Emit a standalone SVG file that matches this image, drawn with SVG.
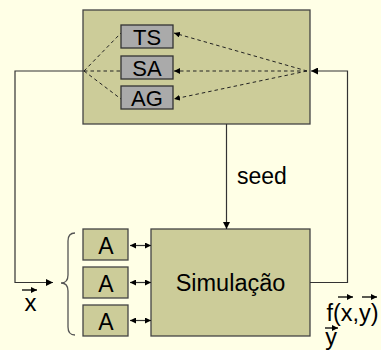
<svg xmlns="http://www.w3.org/2000/svg" width="381" height="350" viewBox="0 0 381 350">
<defs>
<style>
.big{fill:#CCCC99;stroke:#444;stroke-width:1.3}
.alg{fill:#AAAAAA;stroke:#333;stroke-width:1.3}
.t{font-family:"Liberation Sans",Arial,sans-serif;fill:#000;text-anchor:middle}
.s{font-family:"Liberation Sans",Arial,sans-serif;fill:#000;text-anchor:start}
.ln{fill:none;stroke:#333;stroke-width:1.2}
.dash{fill:none;stroke:#222;stroke-width:1;stroke-dasharray:3.5,3}
.vec{stroke:#000;stroke-width:1.3}
</style>
<marker id="ah" viewBox="0 0 10 10" refX="10" refY="5" markerWidth="7" markerHeight="7" markerUnits="userSpaceOnUse" orient="auto">
<path d="M0,0 L10,5 L0,10 z" fill="#000"/>
</marker>
<marker id="ahs" viewBox="0 0 10 10" refX="10" refY="5" markerWidth="6" markerHeight="6" markerUnits="userSpaceOnUse" orient="auto">
<path d="M0,0 L10,5 L0,10 z" fill="#000"/>
</marker>
<marker id="ahsr" viewBox="0 0 10 10" refX="0" refY="5" markerWidth="6" markerHeight="6" markerUnits="userSpaceOnUse" orient="auto">
<path d="M10,0 L0,5 L10,10 z" fill="#000"/>
</marker>
</defs>
<rect x="0" y="0" width="381" height="350" fill="#FFFFE6"/>

<g id="otimizador">
<rect class="big" x="83" y="10" width="227" height="114"/>
</g>
<g id="TS">
<rect class="alg" x="121" y="25" width="52" height="23"/>
<text class="t" x="147" y="45" font-size="22">TS</text>
</g>
<g id="SA">
<rect class="alg" x="121" y="56" width="52" height="23"/>
<text class="t" x="147" y="76" font-size="22">SA</text>
</g>
<g id="AG">
<rect class="alg" x="121" y="86" width="52" height="23"/>
<text class="t" x="147" y="106" font-size="22">AG</text>
</g>

<g id="simulacao">
<rect class="big" x="151" y="229" width="159" height="107"/>
<text class="t" x="230.5" y="291" font-size="23.5">Simulação</text>
</g>
<g id="A1">
<rect class="big" x="83" y="229" width="45" height="31"/>
<text class="t" x="106" y="254" font-size="23">A</text>
</g>
<g id="A2">
<rect class="big" x="83" y="267" width="45" height="31"/>
<text class="t" x="106" y="292" font-size="23">A</text>
</g>
<g id="A3">
<rect class="big" x="83" y="305" width="45" height="31"/>
<text class="t" x="106" y="330" font-size="23">A</text>
</g>

<g id="connectors">
<line class="dash" x1="84" y1="71" x2="121" y2="33"/>
<line class="dash" x1="84" y1="71" x2="121" y2="71"/>
<line class="dash" x1="84" y1="71" x2="121" y2="99"/>
<line class="dash" x1="307" y1="71" x2="174" y2="33" marker-end="url(#ahs)"/>
<line class="dash" x1="307" y1="71" x2="174" y2="71" marker-end="url(#ahs)"/>
<line class="dash" x1="307" y1="71" x2="174" y2="99" marker-end="url(#ahs)"/>
<polyline class="ln" points="84,71 15,71 15,282.5 53,282.5" marker-end="url(#ah)"/>
<polyline class="ln" points="310,282.5 347.5,282.5 347.5,71 311,71" marker-end="url(#ah)"/>
<line class="ln" x1="226.5" y1="124" x2="226.5" y2="229" marker-end="url(#ah)"/>
<line class="ln" x1="130" y1="245.5" x2="151" y2="245.5" marker-start="url(#ahsr)" marker-end="url(#ahs)"/>
<line class="ln" x1="130" y1="282.5" x2="151" y2="282.5" marker-start="url(#ahsr)" marker-end="url(#ahs)"/>
<line class="ln" x1="130" y1="320.5" x2="151" y2="320.5" marker-start="url(#ahsr)" marker-end="url(#ahs)"/>
<path d="M75,233 Q68,233 68,241 L68,275 Q68,283 61,283 Q68,283 68,291 L68,327 Q68,335 75,335" fill="none" stroke="#555" stroke-width="1.3"/>
</g>

<g id="labels">
<text class="s" x="237" y="184" font-size="23">seed</text>
<text class="t" x="30.5" y="311" font-size="24">x</text>
<line class="vec" x1="22" y1="290" x2="37" y2="290" marker-end="url(#ahs)"/>
<text class="t" x="352.5" y="321" font-size="23.5">f(x,y)</text>
<line class="vec" x1="338" y1="297" x2="353" y2="297" marker-end="url(#ahs)"/>
<line class="vec" x1="362" y1="297" x2="377" y2="297" marker-end="url(#ahs)"/>
<text class="t" x="331" y="345" font-size="23.5">y</text>
<line class="vec" x1="325" y1="328" x2="338" y2="328" marker-end="url(#ahs)"/>
</g>
</svg>
